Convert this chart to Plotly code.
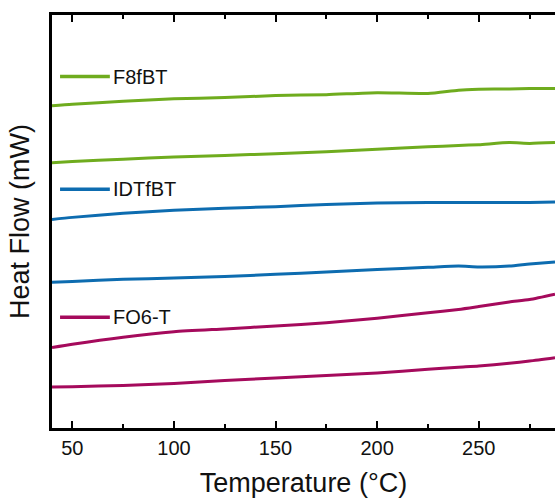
import plotly.graph_objects as go

# Temperature (°C) sample points
temperature = [40, 50, 75, 100, 125, 150, 175, 200, 225, 240, 250, 265, 275, 287.5]

# Heat flow curves (arbitrary offset units, mW)
f8fbt_upper = [7.80, 7.84, 7.91, 7.97, 8.00, 8.05, 8.07, 8.12, 8.10, 8.18, 8.20, 8.21, 8.22, 8.22]
f8fbt_lower = [6.42, 6.45, 6.51, 6.56, 6.60, 6.64, 6.69, 6.75, 6.81, 6.84, 6.86, 6.91, 6.89, 6.91]
idtfbt_upper = [5.05, 5.10, 5.20, 5.27, 5.32, 5.36, 5.41, 5.45, 5.46, 5.46, 5.46, 5.46, 5.46, 5.47]
idtfbt_lower = [3.53, 3.55, 3.60, 3.63, 3.67, 3.72, 3.78, 3.84, 3.89, 3.92, 3.90, 3.92, 3.97, 4.02]
fo6t_upper = [1.95, 2.03, 2.20, 2.33, 2.40, 2.47, 2.55, 2.66, 2.79, 2.87, 2.94, 3.05, 3.11, 3.24]
fo6t_lower = [0.99, 1.00, 1.03, 1.08, 1.15, 1.21, 1.27, 1.33, 1.42, 1.47, 1.50, 1.57, 1.62, 1.70]

series = [
    ("F8fBT", "#6FAC1E", f8fbt_upper, f8fbt_lower, 0.851),
    ("IDTfBT", "#0D6CB0", idtfbt_upper, idtfbt_lower, 0.578),
    ("FO6-T", "#A50A5C", fo6t_upper, fo6t_lower, 0.268),
]

fig = go.Figure()
shapes = []
annotations = []
for name, color, up, lo, ly in series:
    for ys in (up, lo):
        fig.add_trace(go.Scatter(
            x=temperature, y=ys, mode="lines", name=name, showlegend=False,
            line=dict(color=color, width=3, shape="spline", smoothing=0.6),
            hoverinfo="skip"))
    shapes.append(dict(type="line", xref="paper", yref="paper",
                       x0=0.016, x1=0.115, y0=ly, y1=ly,
                       line=dict(color=color, width=3.5)))
    annotations.append(dict(text=name, xref="paper", yref="paper", x=0.117, y=ly,
                            xanchor="left", yanchor="middle", showarrow=False,
                            font=dict(size=20, color="#111")))

font_family = "Liberation Sans, Arial, sans-serif"
fig.update_layout(
    width=555, height=502,
    margin=dict(l=52, r=0, t=15, b=74),
    plot_bgcolor="white", paper_bgcolor="white",
    font=dict(family=font_family, color="#111"),
    shapes=shapes, annotations=annotations,
    showlegend=False,
)
fig.update_xaxes(
    range=[40, 287.5], showgrid=False, zeroline=False,
    showline=True, linecolor="black", linewidth=2.5, mirror="allticks",
    ticks="inside", ticklen=7, tickwidth=2, tickcolor="black",
    tickvals=[50, 100, 150, 200, 250],
    minor=dict(ticks="inside", ticklen=4, tickwidth=2, tickcolor="black", dtick=25, tick0=25),
    tickfont=dict(size=20, family=font_family),
    title=dict(text="Temperature (°C)", font=dict(size=27, family=font_family), standoff=16),
)
fig.update_yaxes(
    range=[0, 10], showgrid=False, zeroline=False,
    showline=True, linecolor="black", linewidth=2.5,
    showticklabels=False, ticks="",
    title=dict(text="Heat Flow (mW)", font=dict(size=27, family=font_family), standoff=12),
)
fig.write_html("out.html")
